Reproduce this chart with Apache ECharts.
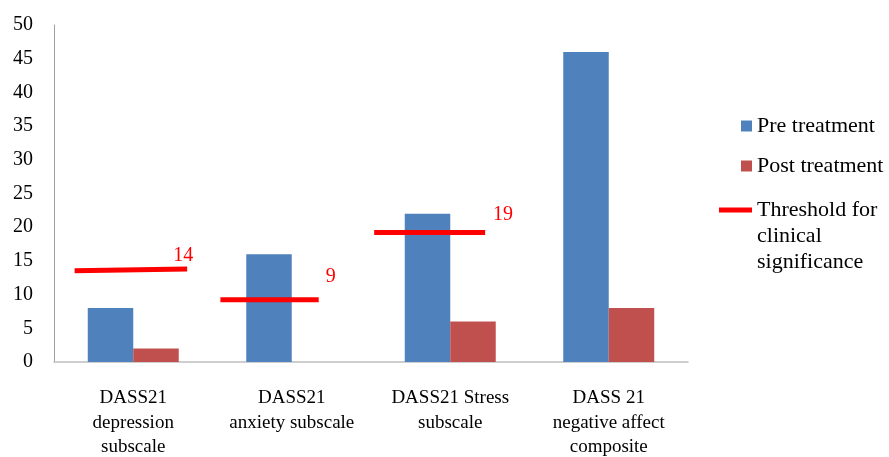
<!DOCTYPE html>
<html>
<head>
<meta charset="utf-8">
<script src="https://cdn.jsdelivr.net/npm/echarts@6/dist/echarts.min.js"></script>
<style>
  html, body { margin: 0; padding: 0; background: #fff; }
  #chart { width: 889px; height: 457px; }
</style>
</head>
<body>
<div id="chart"></div>
<script>
var categories = ['DASS21\ndepression\nsubscale', 'DASS21\nanxiety subscale', 'DASS21 Stress\nsubscale', 'DASS 21\nnegative affect\ncomposite'];
var preTreatment = [8, 16, 22, 46];
var postTreatment = [2, 0, 6, 8];

// threshold segments as drawn (x in category units, 0..4)
var thresholdLabels = ['14', '9', '19'];
var thresholdXStart = [0.13, 1.05, 2.02];
var thresholdXEnd = [0.84, 1.67, 2.72];
var thresholdYStart = [13.55, 9.25, 19.2];
var thresholdYEnd = [13.8, 9.25, 19.2];
var yTicks = [0, 5, 10, 15, 20, 25, 30, 35, 40, 45, 50];

var FONT = '"Liberation Serif", "Times New Roman", serif';
var labelOffsets = [[-4, -13], [12, -23], [18, -18]];

var chart = echarts.init(document.getElementById('chart'), null, {renderer: 'canvas'});

var thresholdSeries = thresholdLabels.map(function (lab, i) {
    return {
        name: 'Threshold for clinical significance',
        type: 'line',
        xAxisIndex: 1,
        symbol: 'circle',
        symbolSize: 0,
        showSymbol: true,
        itemStyle: {color: '#ff0000'},
        lineStyle: {color: '#ff0000', width: 5},
        z: 5,
        data: [
            [thresholdXStart[i], thresholdYStart[i]],
            {
                value: [thresholdXEnd[i], thresholdYEnd[i]],
                label: {
                    show: true,
                    position: 'inside',
                    offset: labelOffsets[i],
                    formatter: lab,
                    color: '#ff0000',
                    fontFamily: FONT,
                    fontSize: 20
                }
            }
        ]
    };
});

var option = {
    backgroundColor: '#fff',
    animation: false,
    grid: {left: 54, right: 201, top: 25, bottom: 95, outerBoundsMode: 'none'},
    legend: [{
        orient: 'vertical',
        left: 741,
        top: 113,
        padding: 0,
        itemWidth: 11,
        itemHeight: 11,
        itemGap: 14,
        icon: 'rect',
        data: ['Pre treatment', 'Post treatment'],
        textStyle: {fontFamily: FONT, fontSize: 22, color: '#000', lineHeight: 26}
    }, {
        orient: 'vertical',
        left: 719,
        top: 145,
        padding: 0,
        itemWidth: 33,
        itemHeight: 5,
        icon: 'rect',
        data: ['Threshold for clinical significance'],
        formatter: function () { return '\n\nThreshold for\nclinical\nsignificance'; },
        textStyle: {fontFamily: FONT, fontSize: 22, color: '#000', lineHeight: 26}
    }],
    xAxis: [{
        type: 'category',
        data: categories,
        axisLine: {lineStyle: {color: '#bfbfbf', width: 1.5}},
        axisTick: {show: false},
        axisLabel: {
            interval: 0,
            margin: 24,
            color: '#000',
            fontFamily: FONT,
            fontSize: 19,
            lineHeight: 24.5
        }
    }, {
        type: 'value',
        min: 0,
        max: 4,
        show: false
    }],
    yAxis: {
        type: 'value',
        min: yTicks[0],
        max: yTicks[yTicks.length - 1],
        interval: 5,
        axisLine: {show: true, lineStyle: {color: '#a0a0a0', width: 1}},
        axisTick: {show: false},
        splitLine: {show: false},
        axisLabel: {margin: 21, color: '#000', fontFamily: FONT, fontSize: 20}
    },
    series: [{
        name: 'Pre treatment',
        type: 'bar',
        data: preTreatment,
        barGap: '0%',
        barCategoryGap: '42.6%',
        itemStyle: {color: '#4f81bd'}
    }, {
        name: 'Post treatment',
        type: 'bar',
        data: postTreatment,
        itemStyle: {color: '#c0504d'}
    }].concat(thresholdSeries)
};

chart.setOption(option);
</script>
</body>
</html>
